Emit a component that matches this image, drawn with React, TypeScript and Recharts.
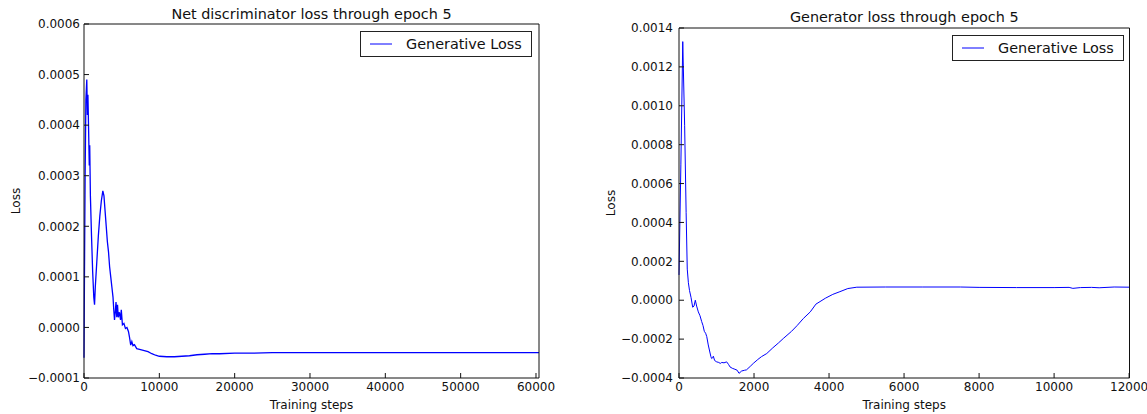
import { Label, Legend, Line, LineChart, XAxis, YAxis } from "recharts";

// net discriminator loss (left panel)
const discSteps = [
  0, 60, 150, 250, 370, 450, 520, 600, 700, 760, 850, 1000, 1150, 1300, 1400,
  1500, 1700, 1900, 2100, 2300, 2500, 2650, 2800, 2950, 3100, 3250, 3400, 3550,
  3700, 3850, 3950, 4050, 4150, 4250, 4350, 4450, 4550, 4700, 4850, 4950, 5100,
  5300, 5500, 5700, 5900, 6050, 6200, 6350, 6500, 6700, 7000, 7500, 8000, 8500,
  9000, 9500, 10000, 11000, 12000, 13000, 14000, 15000, 16000, 17000, 18000,
  20000, 22000, 25000, 28000, 30000, 35000, 40000, 45000, 50000, 55000, 60000,
  60400,
];
const discLoss = [
  -0.00006, 0.0001, 0.0003, 0.00045, 0.00049, 0.00042, 0.00046, 0.0004, 0.00032,
  0.00036, 0.00026, 0.00018, 0.00011, 0.00006, 0.000045, 0.00008, 0.00013,
  0.00018, 0.00022, 0.00025, 0.00027, 0.00026, 0.00023, 0.0002, 0.00017,
  0.00015, 0.00012, 0.0001, 0.00008, 0.00006, 0.000035, 0.000015, 0.00003,
  0.00005, 0.00002, 0.000045, 0.00002, 0.00003, 0.000015, 0.000035, 0.000005,
  0.000008, -0.000002, 0.0, -0.000008, -0.00002, -0.000035, -0.000028,
  -0.000036, -0.000034, -0.000042, -0.000044, -0.000046, -0.000048, -0.000052,
  -0.000055, -0.000057, -0.000058, -0.000058, -0.000057, -0.000056, -0.000054,
  -0.000053, -0.000052, -0.000052, -0.000051, -0.000051, -0.00005, -0.00005,
  -0.00005, -0.00005, -0.00005, -0.00005, -0.00005, -0.00005, -0.00005,
  -0.00005,
];

// generator loss (right panel)
const genSteps = [
  0, 50, 100, 150, 190, 220, 250, 280, 320, 365, 400, 435, 470, 515, 560, 605,
  640, 675, 710, 740, 780, 810, 850, 870, 900, 915, 950, 1005, 1060, 1100, 1140,
  1200, 1270, 1320, 1360, 1420, 1490, 1550, 1600, 1670, 1750, 1800, 1900, 1980,
  2100, 2200, 2340, 2500, 2650, 2780, 3000, 3150, 3315, 3500, 3650, 3760, 3900,
  4100, 4290, 4500, 4740, 5500, 6500, 7500, 8000, 9000, 10000, 10400, 10500,
  10700, 11000, 11200, 11600, 12010,
];
const genLoss = [
  0.00013, 0.0007, 0.00133, 0.0009, 0.00045, 0.00016, 0.00009, 0.00005,
  0.000015, -0.000036, -0.00003, 0.0, -0.00003, -0.00006, -0.00008, -0.00011,
  -0.00013, -0.00016, -0.00017, -0.000187, -0.00023, -0.000256, -0.00029,
  -0.0003, -0.000295, -0.000288, -0.00031, -0.000317, -0.00032, -0.000325,
  -0.00032, -0.000322, -0.000317, -0.00033, -0.000343, -0.00035, -0.000355,
  -0.00036, -0.000376, -0.000364, -0.00036, -0.000358, -0.00034, -0.000325,
  -0.000305, -0.00029, -0.000274, -0.000245, -0.00022, -0.000197, -0.00016,
  -0.00013, -0.000094, -0.00006, -0.00002, -0.000007, 0.00001, 0.00003,
  0.000044, 0.00006, 0.000067, 0.000068, 0.000068, 0.000068, 0.000066,
  0.000065, 0.000065, 0.000066, 0.000061, 0.000065, 0.000066, 0.000064,
  0.000068, 0.000067,
];

const discXTicks = [0, 10000, 20000, 30000, 40000, 50000, 60000];
const discYTicks = [-0.0001, 0, 0.0001, 0.0002, 0.0003, 0.0004, 0.0005, 0.0006];
const genXTicks = [0, 2000, 4000, 6000, 8000, 10000, 12000];
const genYTicks = [
  -0.0004, -0.0002, 0, 0.0002, 0.0004, 0.0006, 0.0008, 0.001, 0.0012, 0.0014,
];

const seriesName = "Generative Loss";
const FONT = "DejaVu Sans";

const fmtY = (v: number) => {
  const s = Math.abs(v).toFixed(4);
  return v < -1e-12 ? "\u2212" + s : s;
};

const tickStyle = { fontSize: 12, fill: "#111", fontFamily: FONT };
const axisLine = { stroke: "#111", strokeWidth: 1 };

function LegendBox() {
  return (
    <div
      style={{
        width: 172,
        height: 26,
        boxSizing: "border-box",
        border: "1px solid #222",
        background: "#fff",
        display: "flex",
        alignItems: "center",
        fontFamily: FONT,
        fontSize: 14.4,
        color: "#111",
      }}
    >
      <svg width={22} height={4} style={{ marginLeft: 9 }}>
        <line x1={0} y1={2} x2={22} y2={2} stroke="#0000ff" strokeWidth={1} />
      </svg>
      <span style={{ marginLeft: 14, whiteSpace: "nowrap" }}>{seriesName}</span>
    </div>
  );
}

function YTitle({ viewBox, dx }: any) {
  const x = viewBox.x + dx;
  const y = viewBox.y + viewBox.height / 2;
  return (
    <text
      x={x}
      y={y}
      transform={`rotate(-90, ${x}, ${y})`}
      textAnchor="middle"
      dominantBaseline="central"
      fontFamily={FONT}
      fontSize={12}
      fill="#111"
    >
      Loss
    </text>
  );
}

type PanelProps = {
  steps: number[];
  losses: number[];
  xTicks: number[];
  yTicks: number[];
  xMax: number;
  title: string;
  width: number;
  yAxisWidth: number;
  top: number;
  right: number;
  titleOffset: number;
  legendPos: { left: number; top: number };
  strokeWidth: number;
};

function Panel(p: PanelProps) {
  const data = p.steps.map((s, i) => ({ step: s, loss: p.losses[i] }));
  const yDomain = [p.yTicks[0], p.yTicks[p.yTicks.length - 1]];
  // the top / right axes are 1px thick so that they still render (box frame)
  return (
    <LineChart
      width={p.width}
      height={414}
      data={data}
      margin={{ top: p.top - 1, right: p.right - 1, bottom: 0, left: 0 }}
    >
      <XAxis
        dataKey="step"
        type="number"
        domain={[0, p.xMax]}
        ticks={p.xTicks}
        interval={0}
        height={36}
        tickSize={-5}
        tickMargin={9}
        tick={tickStyle}
        axisLine={axisLine}
        tickLine={axisLine}
      >
        <Label
          value="Training steps"
          position="insideBottom"
          offset={5}
          style={{ fontSize: 12, fontFamily: FONT, fill: "#111" }}
        />
      </XAxis>
      <XAxis
        xAxisId="top"
        orientation="top"
        dataKey="step"
        type="number"
        domain={[0, p.xMax]}
        ticks={p.xTicks}
        interval={0}
        height={1}
        tickSize={-5}
        tick={false}
        axisLine={axisLine}
        tickLine={axisLine}
      >
        <Label
          value={p.title}
          position="top"
          offset={p.titleOffset - 1}
          style={{ fontSize: 14.4, fontFamily: FONT, fill: "#111" }}
        />
      </XAxis>
      <YAxis
        type="number"
        domain={yDomain}
        ticks={p.yTicks}
        interval={0}
        width={p.yAxisWidth}
        tickFormatter={fmtY}
        tickSize={-5}
        tickMargin={p.yAxisWidth > 90 ? 11 : 9}
        tick={tickStyle}
        axisLine={axisLine}
        tickLine={axisLine}
        allowDataOverflow
      >
        <Label content={<YTitle dx={p.yAxisWidth > 90 ? 31 : 16} />} />
      </YAxis>
      <YAxis
        yAxisId="right"
        orientation="right"
        type="number"
        domain={yDomain}
        ticks={p.yTicks}
        interval={0}
        width={1}
        tickSize={-5}
        tick={false}
        axisLine={axisLine}
        tickLine={axisLine}
      />
      <Legend
        verticalAlign="middle"
        layout="horizontal"
        width={172}
        wrapperStyle={{ left: p.legendPos.left, top: p.legendPos.top }}
        content={() => <LegendBox />}
      />
      <Line
        type="linear"
        dataKey="loss"
        name={seriesName}
        stroke="#0000ff"
        strokeWidth={p.strokeWidth}
        dot={false}
        activeDot={false}
        isAnimationActive={false}
      />
    </LineChart>
  );
}

export default function App() {
  return (
    <div
      style={{
        position: "absolute",
        left: 0,
        top: 0,
        width: 1147,
        height: 414,
        background: "#fff",
      }}
    >
      <div style={{ position: "absolute", left: 0, top: 0 }}>
        <Panel
          steps={discSteps}
          losses={discLoss}
          xTicks={discXTicks}
          yTicks={discYTicks}
          xMax={60400}
          title="Net discriminator loss through epoch 5"
          width={560}
          yAxisWidth={84}
          top={24}
          right={21}
          titleOffset={5}
          legendPos={{ left: 360, top: 31 }}
          strokeWidth={1.3}
        />
      </div>
      <div style={{ position: "absolute", left: 580, top: 0 }}>
        <Panel
          steps={genSteps}
          losses={genLoss}
          xTicks={genXTicks}
          yTicks={genYTicks}
          xMax={12010}
          title="Generator loss through epoch 5"
          width={567}
          yAxisWidth={99}
          top={28}
          right={17.5}
          titleOffset={6}
          legendPos={{ left: 372, top: 35 }}
          strokeWidth={1}
        />
      </div>
    </div>
  );
}
